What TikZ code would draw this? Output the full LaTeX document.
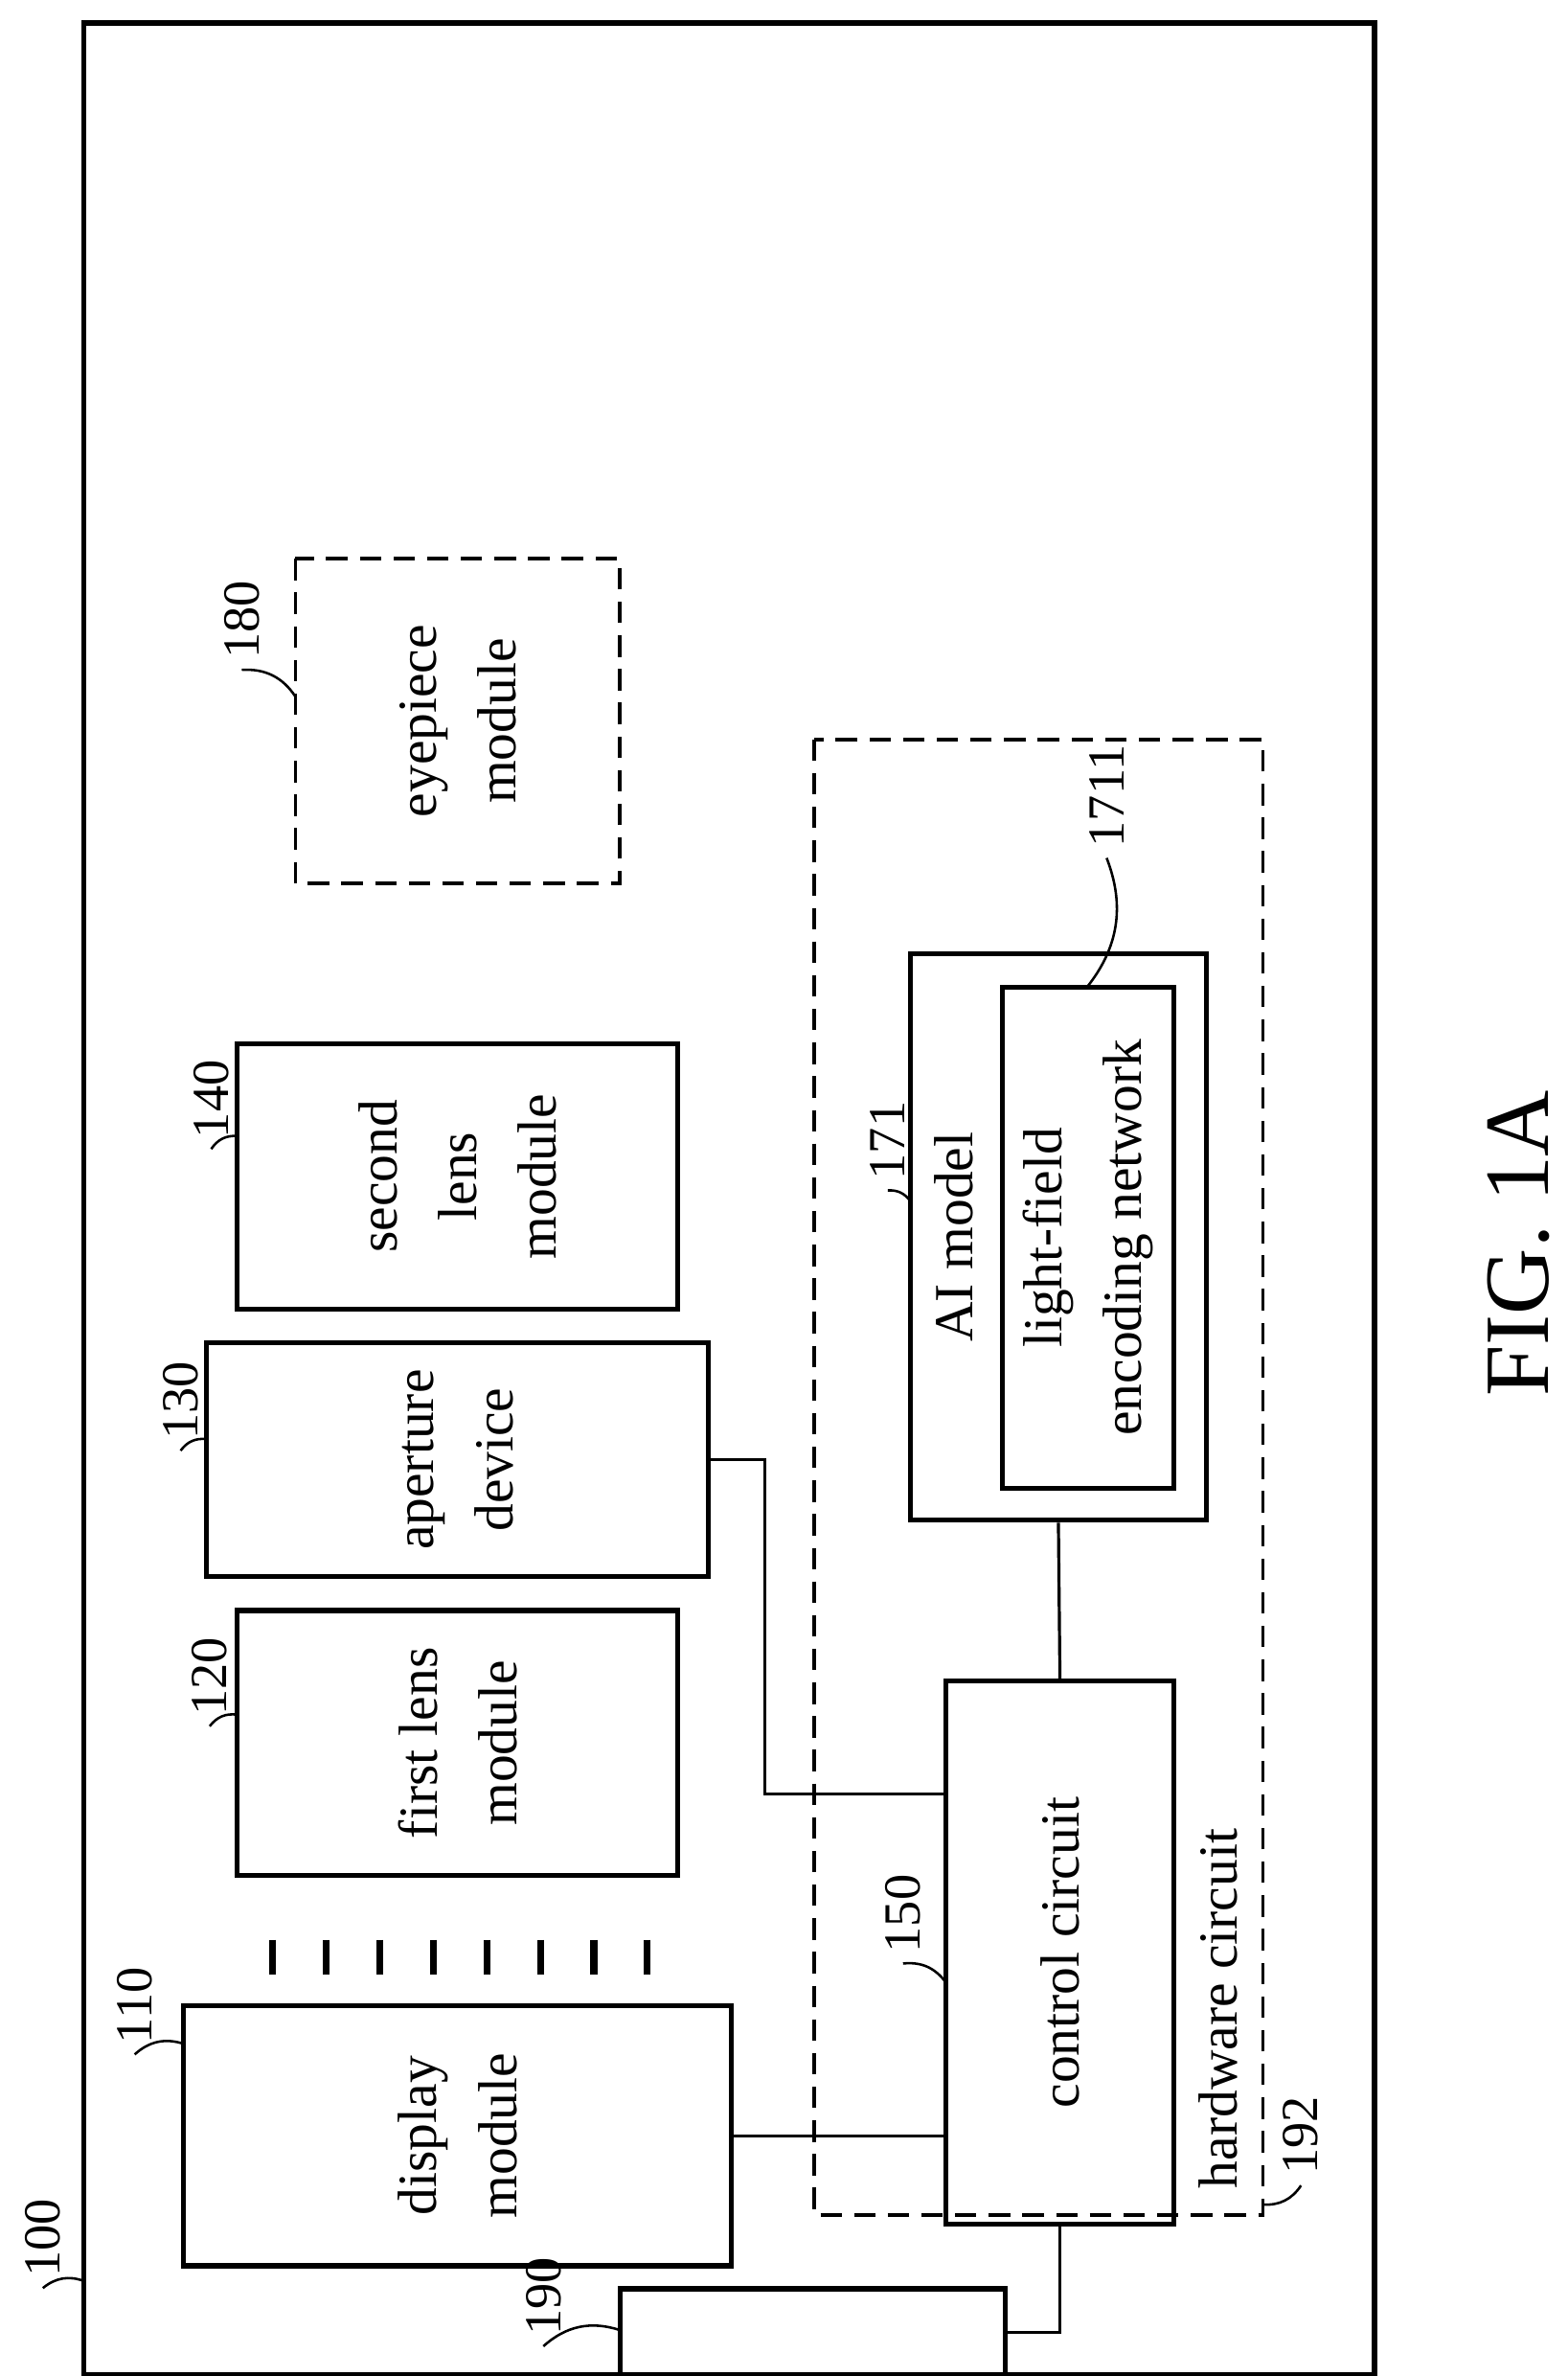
\documentclass[tikz,border=0pt]{standalone}
\usepackage{fontspec}
\setmainfont{Liberation Serif}
\begin{document}
\begin{tikzpicture}[
        x=0.5pt, y=-0.5pt,
        box/.style={draw, line width=1.6pt, rotate=90, align=center, font=\fontsize{18}{26}\selectfont},
        dbox/.style={box, line width=1.1pt, dash pattern=on 7pt off 4pt},
        lbl/.style={rotate=90, font=\fontsize{17}{19}\selectfont},
        lead/.style={line width=0.8pt}
    ]
    \useasboundingbox (0,0) rectangle (1024,1552);

    % Housing
    \draw[line width=1.6pt] (55,15) rectangle (898,1551);

    % Optical modules
    \node[dbox, minimum width=106pt, minimum height=106pt] (eyepiece) at (299,471) {eyepiece\\module};
    \node[box, minimum width=86.5pt, minimum height=144pt] (lens2) at (299,768.5) {second\\lens\\module};
    \node[box, minimum width=76.5pt, minimum height=164pt] (aperture) at (299,953.5) {aperture\\device};
    \node[box, minimum width=86.5pt, minimum height=144pt] (lens1) at (299,1138.5) {first lens\\module};
    \node[box, minimum width=85pt, minimum height=179pt] (display) at (299,1395) {display\\module};

    % Light rays
    \foreach \x in {178,213,248,283,318,353,388,423}
        \draw[line width=2.2pt] (\x,1267) -- (\x,1290);

    % Hardware circuit
    \node[dbox, minimum width=482pt, minimum height=146.5pt] (hw) at (678.5,965) {};
    \node[lbl, font=\fontsize{18}{20}\selectfont] (hwtext) at (796,1312) {hardware circuit};
    \node[box, minimum width=185pt, minimum height=96.5pt] (ai) at (691.5,808) {};
    \node[lbl, font=\fontsize{18}{20}\selectfont] (aitext) at (623,808) {AI model};
    \node[box, minimum width=163.5pt, minimum height=56pt] (lfe) at (711,808.5) {light-field\\encoding network};
    \node[box, minimum width=177.5pt, minimum height=74.5pt] (control) at (692.5,1275.5) {control circuit};
    \node[box, minimum width=28.5pt, minimum height=126pt] (ext) at (531,1523.5) {};

    % Connections
    \draw[line width=1pt] (display.south) -- (control.north |- display.south);
    \draw[line width=1pt] (aperture.south) -- ++(35,0) |- (control.north |- 0,1172);
    \draw[line width=1pt] (ai.west) -- (control.east);
    \draw[line width=1pt] (control.west) |- (ext.south);

    % Reference numerals
    \node[lbl] (n100) at (28,1462) {100};
    \draw[lead] (n100.west) to[bend left=30] (55,1490);
    \node[lbl] (n190) at (355,1500) {190};
    \draw[lead] (n190.west) to[bend left=30] (405,1522);
    \node[lbl] (n110) at (88,1310) {110};
    \draw[lead] (n110.west) to[bend left=30] (120,1335);
    \node[lbl] (n120) at (137,1095) {120};
    \draw[lead] (n120.west) to[bend left=30] (155,1120);
    \node[lbl] (n130) at (118,915) {130};
    \draw[lead] (n130.west) to[bend left=30] (135,940);
    \node[lbl] (n140) at (138,718) {140};
    \draw[lead] (n140.west) to[bend left=30] (155,742);
    \node[lbl] (n180) at (158,405) {180};
    \draw[lead] (n180.west) to[bend left=30] (193,455);
    \node[lbl] (n150) at (590,1250) {150};
    \draw[lead] (n150.west) to[bend left=30] (618,1295);
    \node[lbl] (n171) at (580,745) {171};
    \draw[lead] (n171.west) to[bend left=30] (595,785);
    \node[lbl] (n1711) at (723,520) {1711};
    \draw[lead] (n1711.west) to[bend left=30] (710,645);
    \node[lbl] (n192) at (850,1395) {192};
    \draw[lead] (n192.west) to[bend left=30] (825,1440);

    % Figure title
    \node[rotate=90, font=\fontsize{30}{32}\selectfont] (title) at (992,812) {FIG. 1A};
\end{tikzpicture}
\end{document}
